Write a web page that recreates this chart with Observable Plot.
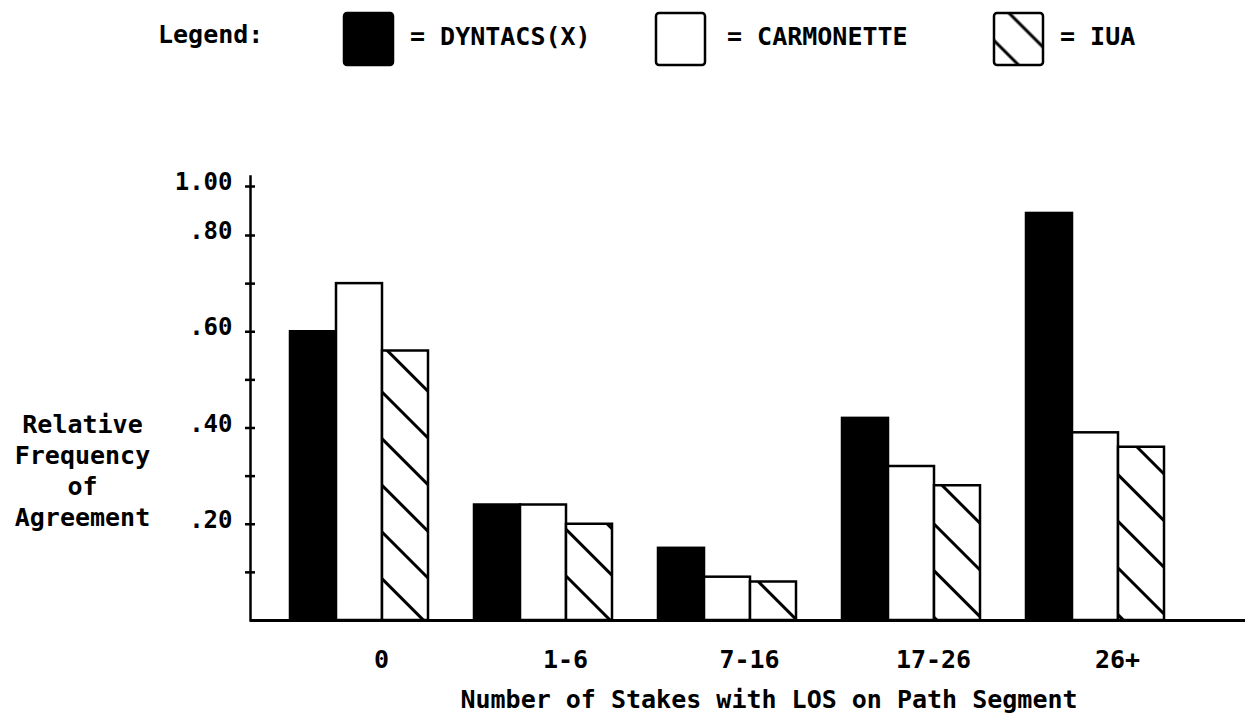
<!DOCTYPE html>
<html>
<head>
<meta charset="utf-8">
<script src="https://cdn.jsdelivr.net/npm/d3@7"></script>
<script src="https://cdn.jsdelivr.net/npm/@observablehq/plot@0.6"></script>
<style>
  body { margin: 0; background: #fff; }
  #legend { display: block; width: 1247px; height: 80px; }
  #chart svg { display: block; }
</style>
</head>
<body>
<svg id="legend" width="1247" height="80" xmlns="http://www.w3.org/2000/svg"></svg>
<div id="chart"></div>
<script>
// ---- data ----
const categories = ["0", "1-6", "7-16", "17-26", "26+"];
const series = ["DYNTACS(X)", "CARMONETTE", "IUA"];
const dyntacs = [0.60, 0.24, 0.15, 0.42, 0.89];
const carmonette = [0.70, 0.24, 0.09, 0.32, 0.39];
const iua = [0.56, 0.20, 0.08, 0.28, 0.36];
const yTicks = [0.1, 0.2, 0.3, 0.4, 0.5, 0.6, 0.7, 0.8, 1.0];
const yTickLabels = [0.2, 0.4, 0.6, 0.8, 1.0];
const xTitle = "Number of Stakes with LOS on Path Segment";
const yTitle = "Relative\nFrequency\nof\nAgreement";
const legendTitle = "Legend:";

const FONT = "'DejaVu Sans Mono', monospace";

// ---- legend (above the chart) ----
const NS = "http://www.w3.org/2000/svg";
const leg = document.getElementById("legend");
leg.innerHTML = `
<defs>
  <pattern id="hatch" patternUnits="userSpaceOnUse" width="33" height="33" patternTransform="rotate(-45)">
    <rect width="33" height="33" fill="white"></rect>
    <line x1="16.5" y1="0" x2="16.5" y2="33" stroke="black" stroke-width="3"></line>
  </pattern>
  <pattern id="hatchL" patternUnits="userSpaceOnUse" width="30" height="30" patternTransform="translate(994,15) rotate(-45)">
    <rect width="30" height="30" fill="white"></rect>
    <line x1="12" y1="0" x2="12" y2="30" stroke="black" stroke-width="3"></line>
  </pattern>
</defs>`;
function addText(x, y, str) {
  const t = document.createElementNS(NS, "text");
  t.setAttribute("x", x); t.setAttribute("y", y);
  t.setAttribute("font-family", FONT);
  t.setAttribute("font-size", "25");
  t.setAttribute("font-weight", "bold");
  t.setAttribute("fill", "black");
  t.textContent = str;
  leg.appendChild(t);
}
function addRect(x, y, w, h, fill) {
  const r = document.createElementNS(NS, "rect");
  r.setAttribute("x", x); r.setAttribute("y", y);
  r.setAttribute("width", w); r.setAttribute("height", h);
  r.setAttribute("rx", 3);
  r.setAttribute("fill", fill);
  r.setAttribute("stroke", "black");
  r.setAttribute("stroke-width", 2.5);
  leg.appendChild(r);
}
addText(158, 43, legendTitle);
const swatches = [
  {x: 344, fill: "black", tx: 410},
  {x: 656, fill: "white", tx: 727},
  {x: 994, fill: "url(#hatchL)", tx: 1060}
];
swatches.forEach((s, i) => {
  addRect(s.x, 13, 49, 52, s.fill);
  addText(s.tx, 45, "= " + series[i]);
});

// ---- chart ----
const values = [dyntacs, carmonette, iua];
const fills = ["black", "white", "url(#hatch)"];
const slots = [];
categories.forEach((c, i) => {
  if (i > 0) slots.push("gap" + i);
  series.forEach(s => slots.push(c + "|" + s));
});
const data = categories.flatMap((c, i) =>
  series.map((s, j) => ({category: c, series: s, key: c + "|" + s, value: values[j][i]}))
);
const middleKeys = categories.map(c => c + "|" + series[1]);
const fmtY = d => d === 1 ? "1.00" : d3.format(".2f")(d).replace(/^0/, "");

const chart = Plot.plot({
  width: 1247,
  height: 641,
  marginLeft: 250,
  marginRight: 2,
  marginTop: 96,
  marginBottom: 101,
  style: {fontFamily: FONT, fontSize: "25px", fontWeight: "bold", color: "black", background: "white", overflow: "visible"},
  x: {type: "band", domain: slots, range: [285, 1168], padding: 0, label: null},
  y: {type: "linear", domain: [0, 0.8, 1], range: [540, 155, 106], label: null},
  marks: [
    ...series.map((s, j) =>
      Plot.barY(data.filter(d => d.series === s), {
        x: "key", y: "value", fill: fills[j], stroke: "black", strokeWidth: 2.5, insetLeft: 0, insetRight: 0
      })
    ),
    Plot.frame({anchor: "left", strokeWidth: 2.5}),
    Plot.ruleY([0], {strokeWidth: 3}),
    Plot.axisY(yTicks, {tickSize: 10, dx: 5, tickFormat: () => "", strokeWidth: 2.5, label: null}),
    Plot.axisY(yTickLabels, {tickSize: 0, tickPadding: 18, tickFormat: fmtY, fontSize: 24, dy: -4, label: null}),
    Plot.axisX(middleKeys, {tickSize: 0, tickPadding: 30, tickFormat: k => k.split("|")[0], dx: 22, label: null}),
    Plot.text([xTitle], {text: d => d, frameAnchor: "bottom", lineAnchor: "top", dy: 70, dx: 21}),
    Plot.text([yTitle], {text: d => d, frameAnchor: "left", textAnchor: "middle", lineAnchor: "middle", lineHeight: 1.24, dx: -168, dy: 71})
  ]
});
document.getElementById("chart").appendChild(chart);
</script>
</body>
</html>
